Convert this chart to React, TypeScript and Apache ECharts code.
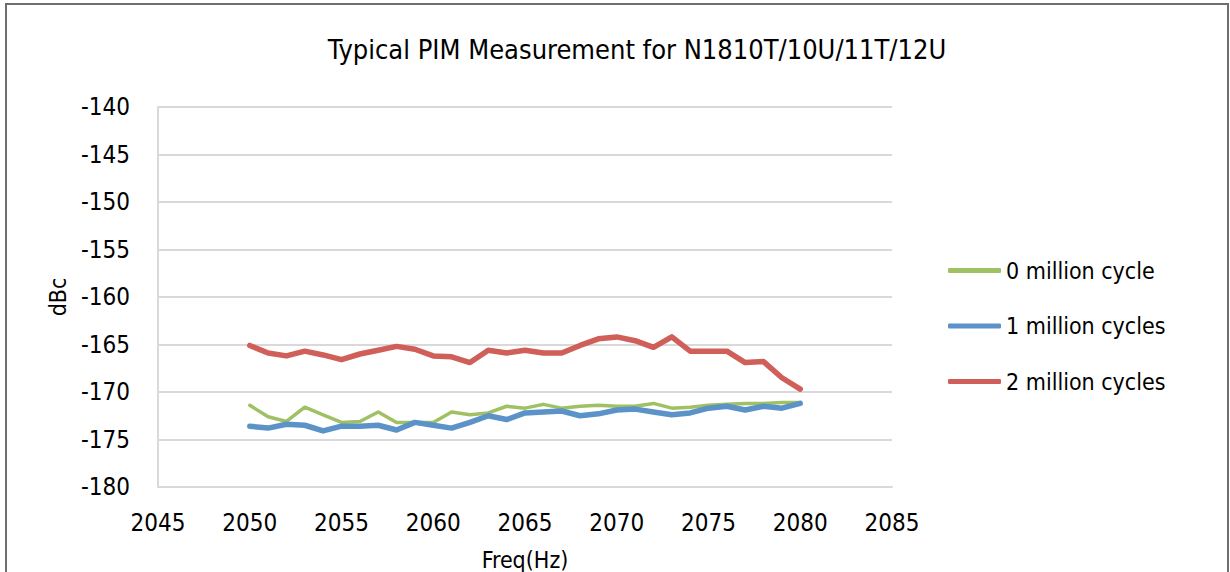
import React, { useEffect, useRef } from "react";
import * as echarts from "echarts";

const freqs = [
  2050, 2051, 2052, 2053, 2054, 2055, 2056, 2057, 2058, 2059, 2060, 2061, 2062, 2063, 2064, 2065,
  2066, 2067, 2068, 2069, 2070, 2071, 2072, 2073, 2074, 2075, 2076, 2077, 2078, 2079, 2080,
];
const cycle0 = [
  -171.4, -172.6, -173.1, -171.6, -172.4, -173.2, -173.1, -172.1, -173.2, -173.2, -173.2, -172.1, -172.4, -172.2, -171.5, -171.7,
  -171.3, -171.7, -171.5, -171.4, -171.5, -171.5, -171.2, -171.7, -171.6, -171.4, -171.3, -171.2, -171.2, -171.1, -171.1,
];
const cycle1 = [
  -173.6, -173.8, -173.4, -173.5, -174.1, -173.6, -173.6, -173.5, -174.0, -173.2, -173.5, -173.8, -173.2, -172.5, -172.9, -172.2,
  -172.1, -172.0, -172.5, -172.3, -171.9, -171.8, -172.1, -172.4, -172.2, -171.7, -171.5, -171.9, -171.5, -171.7, -171.2,
];
const cycle2 = [
  -165.1, -165.9, -166.2, -165.7, -166.1, -166.6, -166.0, -165.6, -165.2, -165.5, -166.2, -166.3, -166.9, -165.6, -165.9, -165.6,
  -165.9, -165.9, -165.1, -164.4, -164.2, -164.6, -165.3, -164.2, -165.7, -165.7, -165.7, -166.9, -166.8, -168.5, -169.7,
];
const seriesNames = ["0 million cycle", "1 million cycles", "2 million cycles"];
const seriesColors = ["#9fc063", "#5b93c9", "#cf5f58"];
const seriesWidths = [3.5, 5.5, 5.5];
const titleText = "Typical PIM Measurement for N1810T/10U/11T/12U";

const FONT = "'Liberation Sans Narrow', 'DejaVu Sans Condensed', Roboto, sans-serif";

export default function App() {
  const ref = useRef<HTMLDivElement>(null);
  useEffect(() => {
    document.body.style.margin = "0";
    const chart = echarts.init(ref.current!, null, { renderer: "svg" });
    const mk = (arr: number[]) => freqs.map((f, i) => [f, arr[i]]);
    const datasets = [cycle0, cycle1, cycle2];
    chart.setOption({
      animation: false,
      backgroundColor: "#ffffff",
      textStyle: { fontFamily: FONT, color: "#000" },
      title: {
        text: titleText,
        left: 632,
        top: 31,
        textAlign: "center",
        textStyle: { fontFamily: FONT, fontSize: 27, fontWeight: "normal", color: "#000" },
      },
      graphic: [
        {
          type: "rect",
          shape: { x: 6, y: 4, width: 1222, height: 600 },
          style: { fill: "none", stroke: "#6e6e6e", lineWidth: 2 },
          silent: true,
        },
      ],
      legend: {
        orient: "vertical",
        left: 948,
        top: 257,
        padding: 0,
        icon: "roundRect",
        itemWidth: 53,
        itemHeight: 5,
        itemGap: 28.5,
        textStyle: { fontFamily: FONT, fontSize: 23, color: "#000", lineHeight: 27 },
        data: seriesNames,
      },
      grid: { left: 158, right: 338, top: 107, bottom: 85, containLabel: false, outerBoundsMode: "none" },
      xAxis: {
        type: "value",
        min: 2045,
        max: 2085,
        interval: 5,
        name: "Freq(Hz)",
        nameLocation: "middle",
        nameGap: 61,
        nameTextStyle: { fontFamily: FONT, fontSize: 23, color: "#000" },
        axisLine: { show: true, lineStyle: { color: "#d9d9d9", width: 2 } },
        axisTick: { show: false },
        splitLine: { show: false },
        axisLabel: { fontFamily: FONT, fontSize: 24, color: "#000", margin: 24, formatter: (v: number) => String(v) },
      },
      yAxis: {
        type: "value",
        min: -180,
        max: -140,
        interval: 5,
        name: "dBc",
        nameLocation: "middle",
        nameGap: 89,
        nameRotate: 90,
        nameTextStyle: { fontFamily: FONT, fontSize: 23, color: "#000" },
        axisLine: { show: true, lineStyle: { color: "#d9d9d9", width: 2 } },
        axisTick: { show: false },
        splitLine: { show: true, lineStyle: { color: "#d9d9d9", width: 2 } },
        axisLabel: { fontFamily: FONT, fontSize: 24, color: "#000", margin: 28, formatter: (v: number) => String(v) },
      },
      series: seriesNames.map((name, k) => ({
        name,
        type: "line",
        data: mk(datasets[k]),
        showSymbol: false,
        symbol: "none",
        color: seriesColors[k],
        itemStyle: { color: seriesColors[k] },
        lineStyle: { color: seriesColors[k], width: seriesWidths[k], cap: "round", join: "round" },
      })),
    });
    return () => chart.dispose();
  }, []);
  return <div ref={ref} style={{ position: "fixed", left: 0, top: 0, width: 1230, height: 572 }} />;
}
